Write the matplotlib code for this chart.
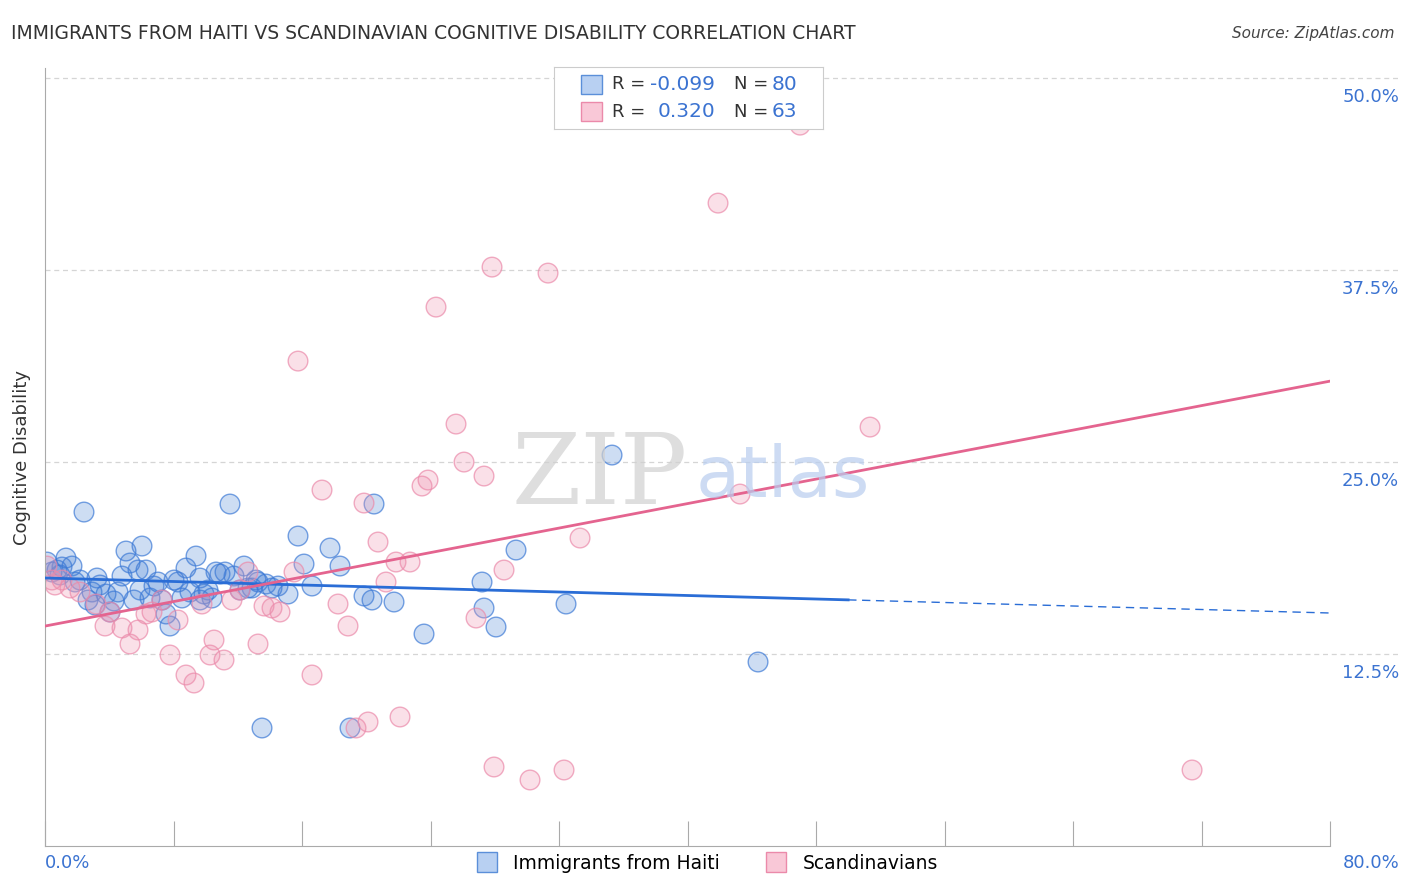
import numpy as np
import matplotlib.pyplot as plt
from matplotlib.lines import Line2D

# pixel-read values converted to data units
def cx(p): return [(v - 45) * 80 / 1285 for v in p]
def cy(p): return [(846 - v) * 50 / 768 for v in p]

haiti_px = [47,52,57,62,66,72,80,84,88,92,97,100,106,110,114,118,122,126,130,134,138,142,146,150,154,158,162,166,170,174,178,182,186,190,196,200,204,208,212,216,220,225,230,234,240,244,248,252,258,262,266,272,278,288,298,304,312,330,340,350,364,372,374,394,424,482,484,496,516,566,612,758,60,75,95,140,200,256]
haiti_py = [562,572,570,567,558,566,580,512,600,592,578,585,594,612,601,592,576,551,563,600,570,546,570,598,586,582,600,614,626,580,582,598,568,592,556,578,594,590,598,572,574,572,504,576,590,566,588,588,582,728,584,588,586,594,536,564,586,548,566,728,596,600,504,602,634,582,608,627,550,604,455,662,575,582,605,590,600,580]
scan_px = [47,55,62,70,80,96,105,110,122,130,138,146,152,162,170,178,186,194,202,210,214,224,232,240,248,258,264,272,280,294,312,322,338,348,356,364,368,378,386,396,400,410,422,428,436,456,464,476,484,492,494,504,530,548,564,580,718,740,800,870,1192,298,52]
scan_py = [566,585,580,588,592,604,626,612,628,644,630,614,612,600,655,620,675,683,604,655,640,660,600,590,572,644,606,608,612,572,675,490,604,626,728,503,722,542,582,562,717,562,486,480,307,424,462,618,476,267,767,570,780,273,770,538,203,494,125,427,770,361,580]

haiti_x, haiti_y = cx(haiti_px), cy(haiti_py)
scan_x, scan_y = cx(scan_px), cy(scan_py)

blue = "#5b8fd9"
pink = "#f09ab5"

fig = plt.figure(figsize=(14.06, 8.92), dpi=100)
ax = fig.add_axes([0.032, 0.0516, 0.914, 0.872])
ax.set_xlim(0, 80)
ax.set_ylim(0, 50.65)

for yv in [12.5, 25, 37.5, 50]:
    ax.plot([0, 84.3], [yv, yv], ls=(0, (4, 3)), color="#d5d5d5", lw=0.9, clip_on=False, zorder=0)
    ax.text(84.3, yv - 1.25, f"{yv:.1f}%", color="#3b73d1", fontsize=13, ha="right", va="center")

ax.scatter(haiti_x, haiti_y, s=200, facecolor=blue, alpha=0.3, edgecolor="none", zorder=2)
ax.scatter(haiti_x, haiti_y, s=200, facecolor="none", edgecolor="#3d7ad6", alpha=0.7, lw=1, zorder=2)
ax.scatter(scan_x, scan_y, s=200, facecolor=pink, alpha=0.3, edgecolor="none", zorder=2)
ax.scatter(scan_x, scan_y, s=200, facecolor="none", edgecolor="#eb8aaa", alpha=0.7, lw=1, zorder=2)

# trend lines
b0, b1 = 17.45, 15.17
ax.plot([0, 50], [b0, b0 + (b1 - b0) * 50 / 80], color="#2a6dd6", lw=2, zorder=3)
ax.plot([50, 80], [b0 + (b1 - b0) * 50 / 80, b1], color="#2a6dd6", lw=1, ls=(0, (6, 4)), zorder=3)
ax.plot([0, 80], [14.32, 30.27], color="#e4648f", lw=2, zorder=3)

for s in ["top", "right"]:
    ax.spines[s].set_visible(False)
ax.spines["left"].set_color("#aaaaaa")
ax.spines["bottom"].set_color("#aaaaaa")
ax.set_xticks(np.arange(0, 81, 8))
ax.set_xticklabels([])
ax.set_yticks([])
ax.tick_params(axis="x", direction="in", length=18, color="#aaaaaa")
ax.text(0, -1.1, "0.0%", color="#3b73d1", fontsize=13, ha="left", va="center")
ax.text(84.3, -1.1, "80.0%", color="#3b73d1", fontsize=13, ha="right", va="center")
ax.set_ylabel("Cognitive Disability", fontsize=13, color="#333333", labelpad=10)

ax.text(40, 24, "ZIP", fontsize=72, color="#d0d0d0", ha="right", va="center", family="DejaVu Serif", alpha=0.7)
ax.text(40.5, 24, "atlas", fontsize=52, color="#b8cdef", ha="left", va="center", alpha=0.7)

fig.text(0.008, 0.963, "IMMIGRANTS FROM HAITI VS SCANDINAVIAN COGNITIVE DISABILITY CORRELATION CHART",
         fontsize=13.5, color="#333333", va="center")
fig.text(0.992, 0.963, "Source: ZipAtlas.com", fontsize=11, color="#444444", ha="right", va="center", style="italic")

# stats legend box
lb = fig.add_axes([0.394, 0.855, 0.191, 0.07])
lb.set_xlim(0, 1); lb.set_ylim(0, 1)
lb.set_xticks([]); lb.set_yticks([])
for s in lb.spines.values():
    s.set_color("#cccccc")
for yy, fc, ec, r, n in [(0.72, "#b8d0f2", "#5b8fd9", "-0.099", "80"), (0.28, "#f9c8d7", "#eb8aaa", "0.320", "63")]:
    lb.add_patch(plt.Rectangle((0.1, yy - 0.15), 0.08, 0.3, facecolor=fc, edgecolor=ec))
    lb.text(0.215, yy, "R =", fontsize=13, color="#333333", va="center")
    lb.text(0.60, yy, r, fontsize=14.5, color="#3b73d1", va="center", ha="right")
    lb.text(0.67, yy, "N =", fontsize=13, color="#333333", va="center")
    lb.text(0.81, yy, n, fontsize=14.5, color="#3b73d1", va="center")

handles = [Line2D([], [], marker="s", ls="", ms=15, mfc="#b8d0f2", mec="#5b8fd9"),
           Line2D([], [], marker="s", ls="", ms=15, mfc="#f9c8d7", mec="#eb8aaa")]
fig.legend(handles, ["Immigrants from Haiti", "Scandinavians"], loc="center", bbox_to_anchor=(0.5, 0.032),
           ncol=2, frameon=False, fontsize=13.5, handletextpad=0.4, columnspacing=2)

fig.savefig("out.png", dpi=100)
